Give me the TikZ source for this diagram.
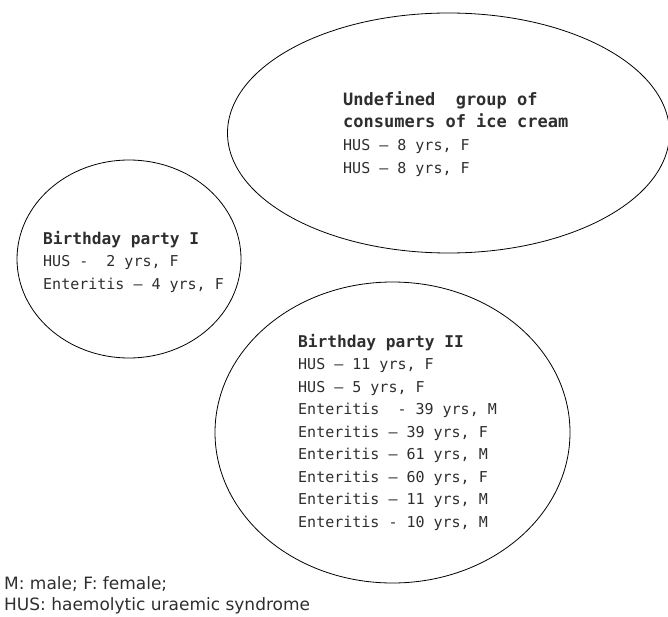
\documentclass[tikz,border=0pt]{standalone}
\usepackage{fontspec}
\setmainfont{DejaVu Sans}
\setmonofont{DejaVu Sans Mono}
\usetikzlibrary{shapes.geometric}
\begin{document}
\begin{tikzpicture}[x=1pt,y=-1pt,
  group/.style={ellipse,draw,line width=0.8pt,inner sep=0pt},
  txt/.style={anchor=north west,inner sep=0pt,align=left,text=black!82},
  note/.style={anchor=north west,inner sep=0pt,align=left,font=\fontsize{17}{21}\selectfont,text=black!82}]
\useasboundingbox (0,0) rectangle (668,617);
\node[group,minimum width=442pt,minimum height=240pt] (ice) at (448.5,133) {};
\node[group,minimum width=224pt,minimum height=198pt] (bp1) at (129,259) {};
\node[group,minimum width=355pt,minimum height=301pt] (bp2) at (392.5,432.5) {};
\node[txt,font=\ttfamily\fontsize{15}{22.7}\selectfont] (icet) at (343,91) {{\bfseries\fontsize{17}{22.7}\selectfont Undefined\ \ group of}\\{\bfseries\fontsize{17}{22.7}\selectfont consumers of ice cream}\\HUS – 8 yrs, F\\HUS – 8 yrs, F};
\node[txt,font=\ttfamily\fontsize{15}{22.5}\selectfont] (bp1t) at (43,231) {{\bfseries\fontsize{16.2}{22.5}\selectfont Birthday party I}\\HUS -\ \ 2 yrs, F\\Enteritis – 4 yrs, F};
\node[txt,font=\ttfamily\fontsize{15}{22.5}\selectfont] (bp2t) at (298,334) {{\bfseries\fontsize{16.2}{22.5}\selectfont Birthday party II}\\HUS – 11 yrs, F\\HUS – 5 yrs, F\\Enteritis\ \ - 39 yrs, M\\Enteritis – 39 yrs, F\\Enteritis – 61 yrs, M\\Enteritis – 60 yrs, F\\Enteritis – 11 yrs, M\\Enteritis - 10 yrs, M};
\node[note] (legend) at (4,576) {M: male; F: female;\\HUS: haemolytic uraemic syndrome};
\end{tikzpicture}
\end{document}
